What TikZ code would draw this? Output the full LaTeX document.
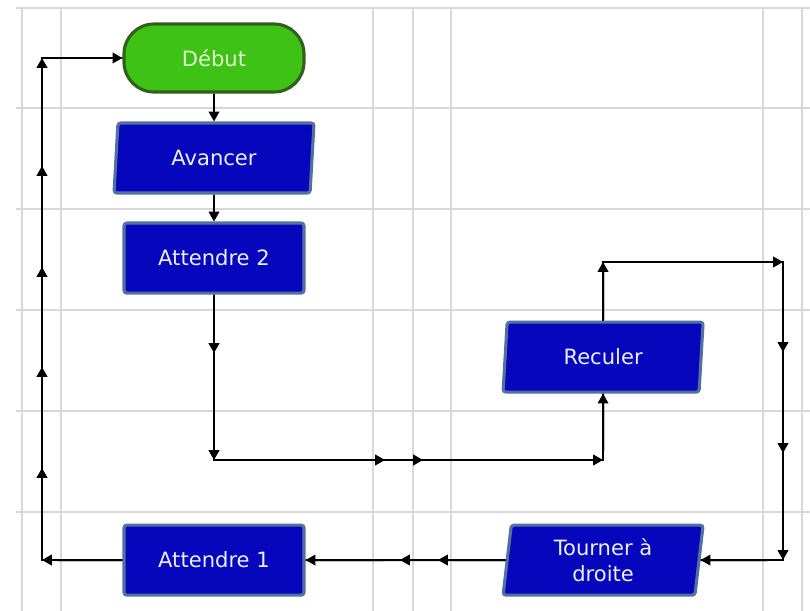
\documentclass[tikz,border=0pt]{standalone}
\usepackage{fontspec}
\newfontfamily\boxfont{DejaVu Sans}
\usetikzlibrary{arrows.meta,positioning,shapes.geometric}
\definecolor{debutfill}{RGB}{62,194,22}
\definecolor{debutline}{RGB}{50,96,28}
\definecolor{debuttext}{RGB}{222,246,204}
\definecolor{blocfill}{RGB}{6,6,188}
\definecolor{blocline}{RGB}{84,112,160}
\definecolor{bloctext}{RGB}{236,238,248}
\definecolor{gridgray}{RGB}{216,216,216}
\tikzset{
	->, >={Triangle[length=7pt,width=7.5pt]}, node distance=2.5cm,
	every node/.style={font=\boxfont\fontsize{15}{18}\selectfont, align=center},
	debut/.style={rectangle, rounded corners=0.75cm, draw=debutline, line width=2.2pt,
		fill=debutfill, text=debuttext, minimum width=4.5cm, minimum height=1.7cm},
	bloc/.style={rectangle, rounded corners=2pt, draw=blocline, line width=2.2pt,
		fill=blocfill, text=bloctext, minimum width=4.5cm, minimum height=1.75cm},
	action/.style={bloc, trapezium, trapezium left angle=81, trapezium right angle=99,
		trapezium stretches body, minimum width=5cm},
	gridline/.style={-, draw=gridgray, line width=1pt},
	flow/.style={line width=1.4pt},
}
\begin{document}
\begin{tikzpicture}[x=0.025cm, y=-0.025cm]
	\useasboundingbox (0,0) rectangle (810,611);
	% grille
	\foreach \y in {8,108,209,310,411,512}
		\draw[gridline] (16,\y) -- (810,\y);
	\foreach \x in {22,61,373,413,451,763,802}
		\draw[gridline] (\x,8) -- (\x,611);

	% blocs
	\node[debut] (debut) at (214,58) {Début};
	\node[action, below of=debut] (avancer) {Avancer};
	\node[bloc, below of=avancer] (att2) {Attendre 2};
	\node[bloc, below of=att2, yshift=-5.05cm] (att1) {Attendre 1};
	\node[action, right of=att1, xshift=7.225cm] (tourner) {Tourner à\\droite};
	\node[action, above of=tourner, yshift=2.575cm] (reculer) {Reculer};

	% points de passage
	\coordinate (a1) at (214,353);
	\coordinate (a2) at (214,460);
	\coordinate (a3) at (385,460);
	\coordinate (a4) at (423,460);
	\coordinate (a5) at (603,460);
	\coordinate (b1) at (603,262);
	\coordinate (b2) at (783,262);
	\coordinate (b3) at (783,352);
	\coordinate (b4) at (783,453);
	\coordinate (b5) at (783,560);
	\coordinate (c1) at (438,560);
	\coordinate (c2) at (400,560);
	\coordinate (d0) at (42,560);
	\foreach \y [count=\i] in {468,367,267,166,58}
		\coordinate (d\i) at (42,\y);

	% liaisons
	\draw[flow, -] (att2) -- (a2) -- (a5) -- (reculer);
	\draw[flow, -] (reculer) -- (b1) -- (b2) -- (b5) -- (tourner);
	\draw[flow, -] (tourner) -- (att1);
	\draw[flow, -] (att1) -- (d0) -- (d5) -- (debut);
	\draw[flow]
		(debut) edge (avancer)
		(avancer) edge (att2);
	\foreach \a/\b in {att2/a1, a1/a2, a2/a3, a3/a4, a4/a5, a5/reculer,
			reculer/b1, b1/b2, b2/b3, b3/b4, b4/b5, b5/tourner,
			tourner/c1, c1/c2, c2/att1,
			att1/d0, d0/d1, d1/d2, d2/d3, d3/d4, d4/d5, d5/debut}
		\draw[flow] (\a) -- (\b);
\end{tikzpicture}
\end{document}
